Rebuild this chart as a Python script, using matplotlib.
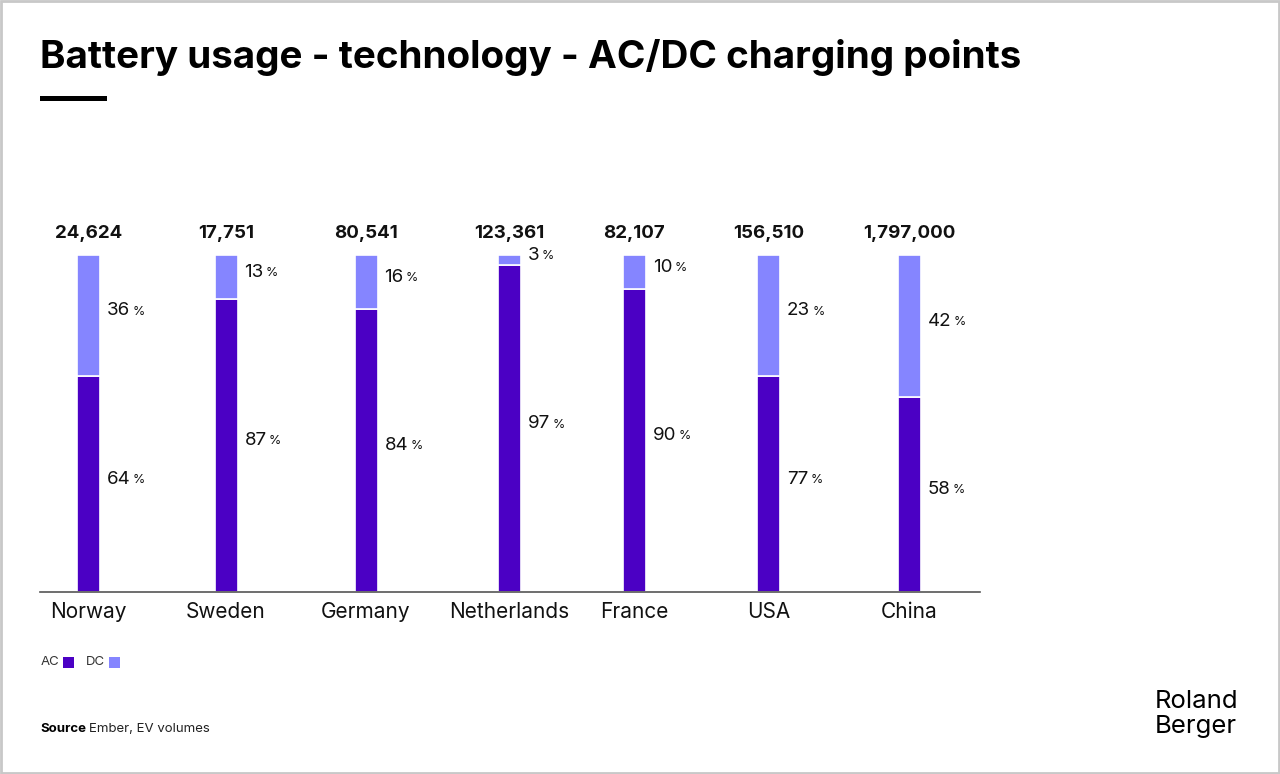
import matplotlib
matplotlib.use("Agg")
import matplotlib.pyplot as plt
from matplotlib.patches import Rectangle

countries = ["Norway", "Sweden", "Germany", "Netherlands", "France", "USA", "China"]
totals = ["24,624", "17,751", "80,541", "123,361", "82,107", "156,510", "1,797,000"]
# bar segment shares as drawn in the picture (%)
ac_bar = [64, 87, 84, 97, 90, 64, 58]
dc_bar = [36, 13, 16, 3, 10, 36, 42]
# shares as labelled
ac_labels = ["64", "87", "84", "97", "90", "77", "58"]
dc_labels = ["36", "13", "16", "3", "10", "23", "42"]

AC_COLOR = "#4B00C4"
DC_COLOR = "#8585FF"
FONT = ["Inter", "DejaVu Sans"]

W, H = 1280, 774
fig = plt.figure(figsize=(W / 100, H / 100), dpi=100)
fig.patch.set_facecolor("white")

def fx(px):
    return px / W

def fy(py):
    return 1 - py / H

# border
fig.add_artist(Rectangle((fx(1), fy(773)), fx(1278), 772 / H, transform=fig.transFigure,
                         fill=False, edgecolor="#C8C8C8", linewidth=2))

# axes: x 40..980 px, y 592 (0%) .. 255 (100%)
ax = fig.add_axes([fx(40), fy(592), fx(940), 337 / H])
n = len(countries)
x = [88.5, 226, 366, 509.5, 634.5, 768.5, 909.5]  # layout positions (px)
bw = 23
ax.bar(x, ac_bar, width=bw, color=AC_COLOR, edgecolor="white", linewidth=1.2)
ax.bar(x, dc_bar, bottom=ac_bar, width=bw, color=DC_COLOR, edgecolor="white", linewidth=1.2)
ax.set_xlim(40, 980)
ax.set_ylim(0, 100)
for s in ["top", "right", "left"]:
    ax.spines[s].set_visible(False)
ax.spines["bottom"].set_color("#555555")
ax.spines["bottom"].set_linewidth(1.2)
ax.set_yticks([])
ax.set_xticks(x)
ax.set_xticklabels(countries, fontsize=15, family=FONT, color="#111111")
ax.tick_params(axis="x", length=0, pad=7.5)

fig.canvas.draw()
renderer = fig.canvas.get_renderer()

def pct_label(xi, yv, num):
    t = ax.text(xi + bw / 2 + 7, yv, num, fontsize=13.5, family=FONT, va="center",
                ha="left", color="#111111")
    bb = t.get_window_extent(renderer)
    ax.annotate("%", xy=(bb.x1, bb.y0 + bb.height / 2), xycoords="figure pixels",
                xytext=(1.5, -0.5), textcoords="offset points", fontsize=9, family=FONT,
                va="center", ha="left", color="#111111")

top_y = 100 + (255 - 233.5) / 3.37
for i in range(n):
    pct_label(x[i], ac_bar[i] / 2 + 1.4, ac_labels[i])
    pct_label(x[i], ac_bar[i] + dc_bar[i] / 2 + 1.4, dc_labels[i])
    ax.text(x[i], top_y, totals[i], ha="center", va="center", fontsize=13.5,
            fontweight="bold", family=FONT, color="#111111")

# title
fig.text(fx(40), fy(57), "Battery usage - technology - AC/DC charging points",
         fontsize=27.8, fontweight="bold", family=FONT, va="center", ha="left", color="black")
fig.add_artist(Rectangle((fx(40), fy(100.5)), fx(67), 5 / H, transform=fig.transFigure,
                         facecolor="black", edgecolor="none"))

# legend
fig.text(fx(41), fy(662), "AC", fontsize=9.5, family=FONT, va="center", ha="left", color="#333333")
fig.add_artist(Rectangle((fx(63), fy(668)), fx(11), 11 / H, transform=fig.transFigure,
                         facecolor=AC_COLOR, edgecolor="none"))
fig.text(fx(86), fy(662), "DC", fontsize=9.5, family=FONT, va="center", ha="left", color="#333333")
fig.add_artist(Rectangle((fx(109), fy(668)), fx(11), 11 / H, transform=fig.transFigure,
                         facecolor=DC_COLOR, edgecolor="none"))

# source
st = fig.text(fx(40), fy(729), "Source", fontsize=9.5, fontweight="bold", family=FONT,
              va="center", ha="left", color="black")
bb = st.get_window_extent(renderer)
fig.text((bb.x1 + 3) / W, fy(729), "Ember, EV volumes", fontsize=9.5, family=FONT,
         va="center", ha="left", color="#222222")

# logo
fig.text(fx(1155), fy(701), "Roland", fontsize=18.5, family=FONT, va="center", ha="left", color="black")
fig.text(fx(1155), fy(727), "Berger", fontsize=18.5, family=FONT, va="center", ha="left", color="black")

fig.savefig("out.png", dpi=100, facecolor="white")
